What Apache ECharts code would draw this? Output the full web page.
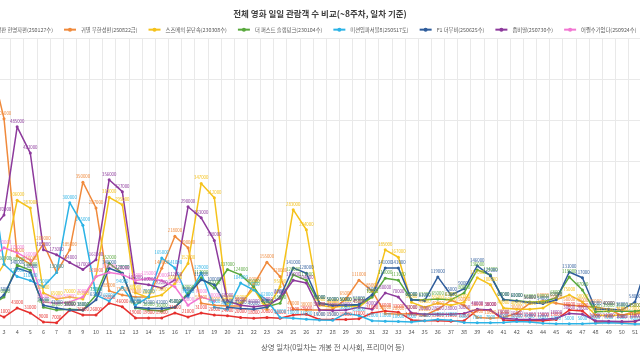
<!DOCTYPE html>
<html><head><meta charset="utf-8">
<script src="https://cdn.jsdelivr.net/npm/echarts@6/dist/echarts.min.js"></script>
<style>html,body{margin:0;padding:0;background:#fff}#c{width:640px;height:360px}</style>
</head><body><div id="c"></div>
<script>
const days = ['0','1','2','3','4','5','6','7','8','9','10','11','12','13','14','15','16','17','18','19','20','21','22','23','24','25','26','27','28','29','30','31','32','33','34','35','36','37','38','39','40','41','42','43','44','45','46','47','48','49','50','51','52','53','54','55','56'];

const names = ['극장판 현명자편(250127수)','귀멸 무한성편(250822금)','스즈메의 문단속(230308수)','더 퍼스트 슬램덩크(230104수)','미션임파서블8(250517토)','F1 더무비(250625수)','좀비딸(250730수)','어쩔수가없다(250924수)'];

const redS = [15000,40000,35000,21000,43000,31000,9000,7000,38000,26000,26000,55000,46000,19000,19000,19000,31000,21000,31000,26000,24000,20000,18000,20000,18000,26000,28000,15000,15000,15000,17000,31000,36000,33000,14000,12000,12000,11000,12000,38000,38000,14000,12000,12000,12000,15000,38000,36000,9000,9000,9000,10000,25000,30000,28000,10000,10000];
const orangeS = [90000,520000,640000,505000,170000,150000,200000,130000,185000,350000,287000,85000,75000,70000,70000,140000,218000,190000,55000,50000,48000,48000,100000,155000,120000,40000,38000,38000,40000,65000,111000,85000,30000,28000,30000,25000,40000,62000,50000,20000,18000,20000,30000,55000,60000,55000,50000,48000,45000,40000,25000,35000,30000,null,null,null,null];
const yellowS = [null,140000,100000,150000,306000,287000,80000,65000,70000,65000,120000,313000,295000,80000,68000,75000,103000,152000,347000,312000,55000,55000,90000,40000,95000,283000,234000,50000,45000,48000,45000,70000,185000,167000,57000,45000,55000,50000,57000,117000,100000,43000,40000,40000,43000,63000,75000,58000,26000,24000,26000,29000,35000,50000,45000,18000,15000];
const greenS = [null,95000,50000,70000,148000,135000,45000,38000,40000,38000,75000,152000,128000,43000,38000,36000,45000,80000,117000,92000,137000,124000,95000,46000,55000,124000,111000,55000,50000,50000,50000,70000,116000,111000,63000,63000,65000,63000,80000,136000,124000,63000,61000,58000,58000,68000,119000,87000,34000,35000,35000,35000,40000,80000,70000,25000,25000];
const cyanS = [60000,420000,380000,150000,120000,110000,95000,130000,300000,245000,75000,60000,94000,50000,70000,165000,141000,70000,129000,45000,40000,104000,87000,62000,20000,18000,16000,14000,13000,30000,25000,12000,11000,10000,9000,12000,15000,13000,8000,7000,7000,8000,10000,9000,6000,5000,5000,5000,6000,7000,6000,4000,4000,4000,4000,5000,5000];
const blueS = [null,70000,50000,75000,140000,130000,50000,43000,38000,38000,63000,140000,128000,45000,42000,42000,45000,75000,112000,100000,45000,42000,40000,45000,70000,141000,128000,55000,50000,50000,52000,75000,141000,141000,63000,61000,119000,75000,90000,146000,122000,63000,60000,56000,54000,63000,131000,117000,40000,40000,38000,58000,160000,120000,100000,35000,30000];
const purpleS = [null,433000,230000,270000,485000,421000,185000,173000,154000,137000,161000,356000,327000,104000,100000,92000,112000,290000,263000,208000,60000,50000,46000,50000,67000,111000,104000,38000,37000,38000,45000,40000,80000,70000,31000,28000,28000,28000,30000,40000,38000,18000,16000,15000,15000,18000,30000,28000,12000,11000,10000,11000,18000,20000,18000,6000,5000];
const pinkS = [20000,331000,165000,190000,178000,160000,58000,55000,58000,70000,120000,130000,125000,110000,115000,110000,95000,50000,70000,60000,null,null,null,null,null,null,null,null,null,null,null,null,null,null,null,null,null,null,null,null,null,null,null,null,null,null,null,null,null,null,null,null,null,null,null,null,null];

const allData = [redS, orangeS, yellowS, greenS, cyanS, blueS, purpleS, pinkS];
const colors = ['#e6302e','#f08a3c','#f5c21b','#58a83c','#2cb3e6','#2f5d9c','#8d3a9c','#f277d2'];

const FONT = '"Noto Sans CJK KR","Noto Sans",sans-serif';
const legFont = 5.3;
const cv = document.createElement('canvas').getContext('2d');
cv.font = legFont + 'px ' + FONT;
const w1 = cv.measureText(names[0]).width;
const legendLeft = 66 - (12 + 5 + w1 + 10) - 9;

const chart = echarts.init(document.getElementById('c'), null, {renderer: 'canvas'});
chart.setOption({
  animation: false,
  backgroundColor: '#fff',
  textStyle: {fontFamily: FONT},
  title: {
    text: '전체 영화 일일 관람객 수 비교(~8주차, 일차 기준)',
    left: 'center', top: 5,
    textStyle: {fontSize: 8.5, fontWeight: 'bold', color: '#404040', fontFamily: FONT}
  },
  legend: {
    type: 'plain', top: 22, left: legendLeft, width: 1200,
    itemWidth: 12, itemHeight: 5, itemGap: 10,
    textStyle: {fontSize: legFont, color: '#595959', fontFamily: FONT},
    data: names
  },
  grid: {left: -42, width: 749.3, top: 38.7, bottom: 34.3, containLabel: false, outerBoundsMode: 'none'},
  xAxis: {
    type: 'category', data: days, boundaryGap: true,
    name: '상영 일차(0일차는 개봉 전 시사회, 프리미어 등)',
    nameLocation: 'middle', nameGap: 18,
    nameTextStyle: {fontSize: 7.4, color: '#595959', fontFamily: FONT},
    axisLine: {lineStyle: {color: '#d9d9d9'}},
    axisTick: {show: false},
    axisLabel: {interval: 0, fontSize: 5.5, color: '#595959', margin: 3},
    splitLine: {show: true, interval: 0, lineStyle: {color: '#e9e9e9', width: 1}}
  },
  yAxis: {
    type: 'value', min: 0, max: 700000, interval: 100000,
    axisLabel: {show: false}, axisLine: {show: false}, axisTick: {show: false},
    splitLine: {lineStyle: {color: '#e9e9e9', width: 1}}
  },
  series: names.map((n, i) => ({
    name: n, type: 'line', data: allData[i],
    color: colors[i],
    symbol: 'circle', symbolSize: 3,
    lineStyle: {width: 1.5, color: colors[i]},
    itemStyle: {color: colors[i]},
    label: {show: true, position: 'top', distance: 2, fontSize: 4.3, color: colors[i], fontFamily: FONT},
    connectNulls: false
  }))
});
</script>
</body></html>
